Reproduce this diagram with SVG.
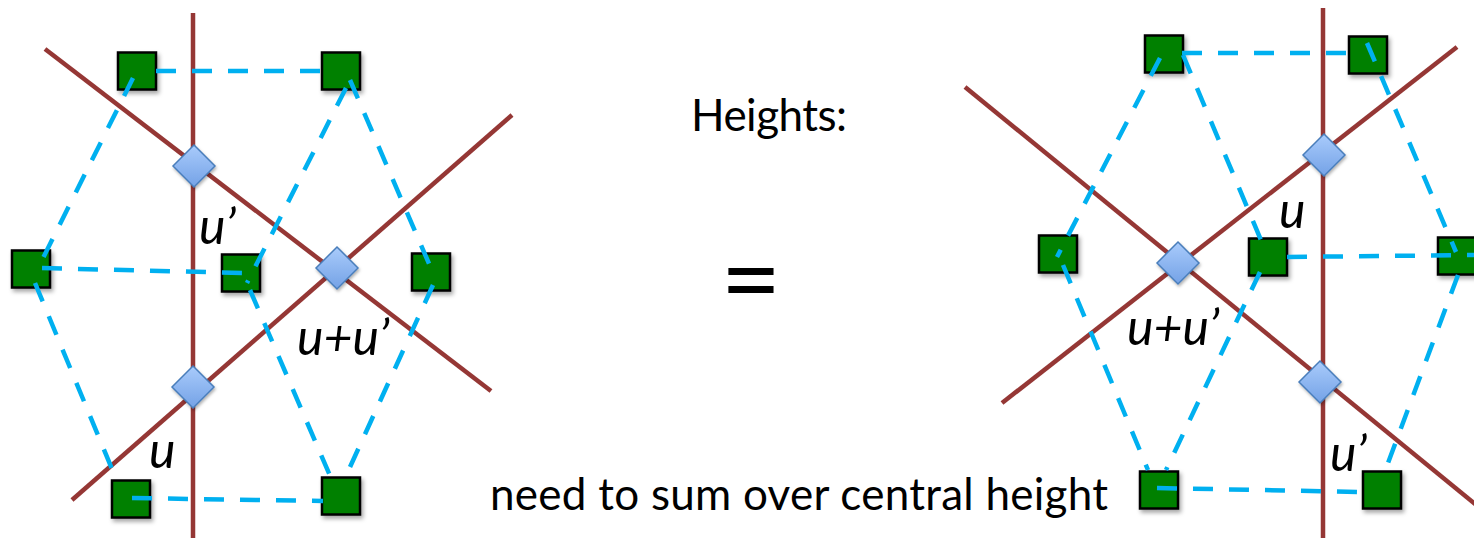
<svg xmlns="http://www.w3.org/2000/svg" width="1474" height="538" viewBox="0 0 1474 538">
<style>
.red{stroke:#953735;stroke-width:4.5;fill:none;stroke-linecap:butt}
.dash{stroke:#00B0F0;stroke-width:4.5;fill:none;stroke-dasharray:20 16}
.sq{fill:#008000;stroke:#000;stroke-width:2.5;filter:url(#sh)}
.dia{fill:url(#dg);stroke:#4A7EBB;stroke-width:1.5;filter:url(#sh2)}
.lbl{font-family:Lato,"Open Sans",sans-serif;font-style:italic;font-size:50px;fill:#000}
.txt{font-family:Lato,"Open Sans",sans-serif;font-size:44px;fill:#000}
.eq{font-family:Lato,"Open Sans",sans-serif;font-size:105px;fill:#000}
</style>
<defs>
<filter id="sh" x="-30%" y="-30%" width="170%" height="170%"><feDropShadow dx="2" dy="3" stdDeviation="2" flood-color="#000" flood-opacity="0.35"/></filter>
<filter id="sh2" x="-30%" y="-30%" width="170%" height="170%"><feDropShadow dx="1" dy="2" stdDeviation="1.5" flood-color="#000" flood-opacity="0.3"/></filter>
<linearGradient id="dg" x1="0" y1="0" x2="0" y2="1"><stop offset="0" stop-color="#a9cbfb"/><stop offset="1" stop-color="#74a2e6"/></linearGradient>
<rect id="s" x="-19" y="-18.5" width="38" height="37"/>
<path id="d" d="M0,-21 L21,0 L0,21 L-21,0 Z"/>
</defs>

<g id="lines">
<line class="red" x1="193" y1="13" x2="193" y2="538"/>
<line class="red" x1="45" y1="49" x2="491" y2="391"/>
<line class="red" x1="512" y1="115" x2="72" y2="500"/>
<line class="red" x1="1323" y1="8" x2="1323" y2="538"/>
<line class="red" x1="1457" y1="47" x2="1002" y2="403"/>
<line class="red" x1="965" y1="87" x2="1480" y2="508"/>
</g>

<g id="sqL-tl"><use href="#s" class="sq" x="137" y="71"/></g>
<g id="sqL-tr"><use href="#s" class="sq" x="341" y="71"/></g>
<g id="sqL-l"><use href="#s" class="sq" x="31" y="269"/></g>
<g id="sqL-c"><use href="#s" class="sq" x="241" y="273"/></g>
<g id="sqL-r"><use href="#s" class="sq" x="431" y="272"/></g>
<g id="sqL-bl"><use href="#s" class="sq" x="131" y="499"/></g>
<g id="sqL-br"><use href="#s" class="sq" x="341" y="496"/></g>

<g id="sqR-tl"><use href="#s" class="sq" x="1164" y="54"/></g>
<g id="sqR-tr"><use href="#s" class="sq" x="1368" y="55"/></g>
<g id="sqR-l"><use href="#s" class="sq" x="1058" y="254"/></g>
<g id="sqR-c"><use href="#s" class="sq" x="1268" y="257"/></g>
<g id="sqR-r"><use href="#s" class="sq" x="1457" y="256"/></g>
<g id="sqR-bl"><use href="#s" class="sq" x="1159" y="490"/></g>
<g id="sqR-br"><use href="#s" class="sq" x="1382" y="490"/></g>

<g id="connectors">
<line class="dash" x1="156" y1="71" x2="323" y2="71"/>
<line class="dash" x1="133" y1="78" x2="43" y2="258"/>
<line class="dash" x1="346" y1="88" x2="247" y2="283"/>
<line class="dash" x1="350" y1="80" x2="433" y2="273"/>
<line class="dash" x1="42" y1="268" x2="242" y2="273"/>
<line class="dash" x1="35" y1="283" x2="117" y2="481"/>
<line class="dash" x1="250" y1="290" x2="331" y2="478"/>
<line class="dash" x1="433" y1="285" x2="345" y2="478"/>
<line class="dash" x1="132" y1="498" x2="323" y2="501"/>

<line class="dash" x1="1182" y1="53" x2="1349" y2="53"/>
<line class="dash" x1="1160" y1="58" x2="1057" y2="257"/>
<line class="dash" x1="1183" y1="55" x2="1266" y2="252"/>
<line class="dash" x1="1367" y1="43" x2="1456" y2="252"/>
<line class="dash" x1="1287" y1="257" x2="1474" y2="255"/>
<line class="dash" x1="1063" y1="265" x2="1148" y2="470"/>
<line class="dash" x1="1260" y1="272" x2="1166" y2="470"/>
<line class="dash" x1="1458" y1="275" x2="1385" y2="471"/>
<line class="dash" x1="1157" y1="488" x2="1363" y2="492"/>
</g>

<g id="diaL-1"><use href="#d" class="dia" x="194" y="166"/></g>
<g id="diaL-2"><use href="#d" class="dia" x="337" y="268"/></g>
<g id="diaL-3"><use href="#d" class="dia" x="193" y="387"/></g>
<g id="diaR-1"><use href="#d" class="dia" x="1324" y="155"/></g>
<g id="diaR-2"><use href="#d" class="dia" x="1178" y="263"/></g>
<g id="diaR-3"><use href="#d" class="dia" x="1320" y="382"/></g>

<g id="labels">
<text class="lbl" x="199" y="244">u’</text>
<text class="lbl" x="149" y="468">u</text>
<text class="lbl" x="297" y="355">u+u’</text>
<text class="lbl" x="1279" y="228">u</text>
<text class="lbl" x="1127" y="345">u+u’</text>
<text class="lbl" x="1330" y="471">u’</text>
<text class="txt" x="691" y="131" textLength="156">Heights:</text>
<text class="eq" x="751" y="316" text-anchor="middle">=</text>
<text class="txt" x="490" y="510" textLength="618">need to sum over central height</text>
</g>
</svg>
